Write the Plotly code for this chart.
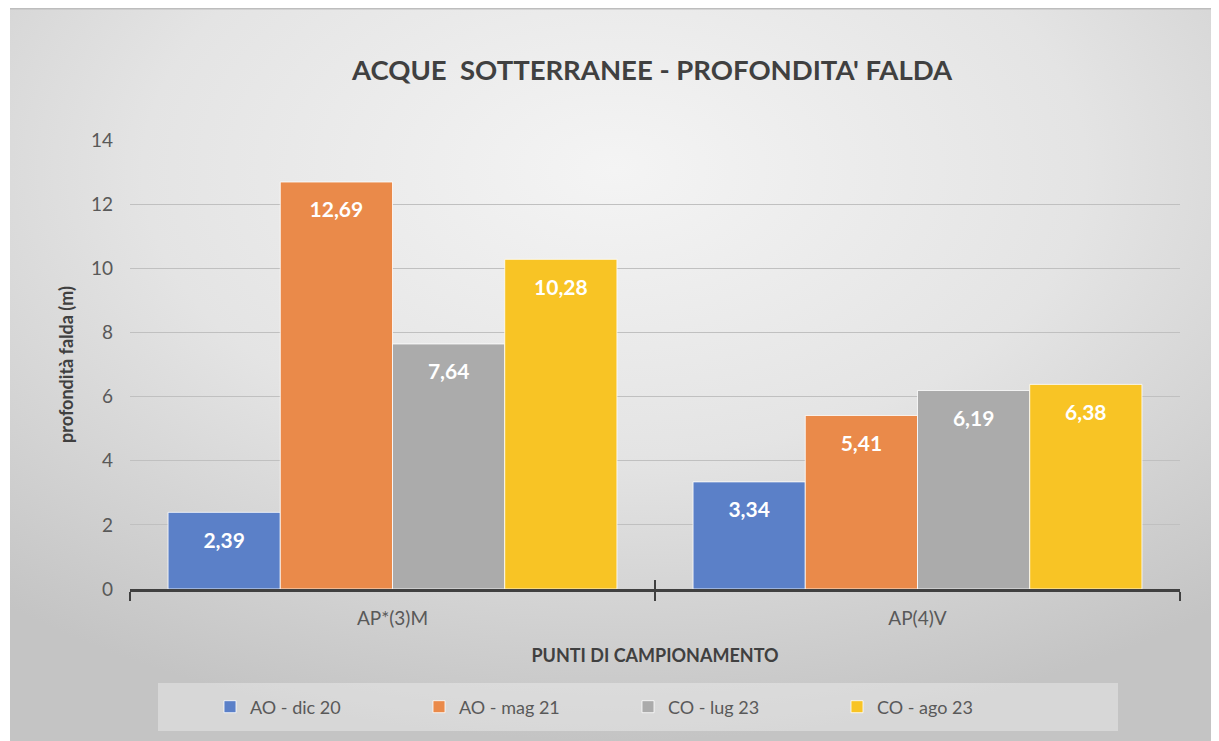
import base64
import plotly.graph_objects as go

categories = ["AP*(3)M", "AP(4)V"]
series_names = ["AO - dic 20", "AO - mag 21", "CO - lug 23", "CO - ago 23"]
ao_dic20 = [2.39, 3.34]
ao_mag21 = [12.69, 5.41]
co_lug23 = [7.64, 6.19]
co_ago23 = [10.28, 6.38]
series_values = [ao_dic20, ao_mag21, co_lug23, co_ago23]
colors = ["#5B80C8", "#EA8A4A", "#ABABAB", "#F8C425"]
y_ticks = [0, 2, 4, 6, 8, 10, 12, 14]

FONT = "Lato"
OFF = 8  # page body margin
W, H = 1219 - OFF, 741 - OFF
ML, MR, MT, MB = 130 - OFF, 1219 - 1180, 140 - OFF, 741 - 589
PW, PH = W - ML - MR, H - MT - MB

def px_x(p):  # screen px -> paper x
    return (p - OFF - ML) / PW

def px_y(p):  # screen px -> paper y
    return (H - MB - (p - OFF)) / PH

fig = go.Figure()
for name, vals, col in zip(series_names, series_values, colors):
    fig.add_trace(go.Bar(
        x=categories, y=vals, name=name,
        marker=dict(color=col, line=dict(color="rgba(255,255,255,0.8)", width=1)),
        texttemplate="&nbsp;<br><span style='font-size:21px'>%{y:.2f}</span>",
        textposition="inside", insidetextanchor="end",
        textangle=0, constraintext="none",
        textfont=dict(family=FONT, size=14, color="white", weight="bold"),
    ))

# helper trace for the overlay axis carrying the inside half of the ticks
fig.add_trace(go.Scatter(x=[], y=[], xaxis="x2", showlegend=False, hoverinfo="skip"))

svg = ("<svg xmlns='http://www.w3.org/2000/svg' width='100' height='100' "
       "viewBox='0 0 100 100' preserveAspectRatio='none'>"
       "<defs><radialGradient id='g' cx='50' cy='22' r='78' gradientUnits='userSpaceOnUse'>"
       "<stop offset='0' stop-color='#f4f4f4'/><stop offset='0.5' stop-color='#e4e4e4'/>"
       "<stop offset='1' stop-color='#c4c4c4'/></radialGradient></defs>"
       "<rect width='100' height='100' fill='url(#g)'/></svg>")
bg_src = "data:image/svg+xml;base64," + base64.b64encode(svg.encode()).decode()

fig.update_layout(
    width=W, height=H,
    margin=dict(l=ML, r=MR, t=MT, b=MB),
    paper_bgcolor="white", plot_bgcolor="rgba(0,0,0,0)",
    separators=",.",
    font=dict(family=FONT, color="#595959"),
    barmode="group", bargap=0.145, bargroupgap=0,
    title=dict(text="ACQUE  SOTTERRANEE - PROFONDITA' FALDA", x=(652 - OFF) / W, xref="container",
               y=1 - (70 - OFF) / H, yref="container", xanchor="center", yanchor="middle",
               font=dict(family=FONT, size=27.5, color="#404040", weight="bold")),
    xaxis=dict(type="category", categoryorder="array", categoryarray=categories,
               showline=True, linecolor="#404040", linewidth=3,
               ticks="outside", tickson="boundaries", ticklen=9, tickwidth=2, tickcolor="#404040",
               tickfont=dict(family=FONT, size=19, color="#595959"), ticklabelstandoff=10,
               showgrid=False,
               title=dict(text="PUNTI DI CAMPIONAMENTO", standoff=22,
                          font=dict(family=FONT, size=18, color="#404040", weight="bold"))),
    xaxis2=dict(overlaying="x", range=[-0.5, 1.5], tickvals=[-0.5, 0.5, 1.5],
                ticks="inside", ticklen=9, tickwidth=2, tickcolor="#404040",
                showticklabels=False, showgrid=False, zeroline=False, showline=False),
    yaxis=dict(range=[0, 14], tickvals=y_ticks, showgrid=True, gridcolor="#c0c0c0", gridwidth=1,
               zeroline=False, showline=False, ticks="", ticklabelstandoff=16,
               tickfont=dict(family=FONT, size=19, color="#595959"),
               title=dict(text="profondità falda (m)", standoff=12,
                          font=dict(family=FONT, size=18, color="#404040", weight="bold"))),
    legend=dict(orientation="h", x=px_x(210), y=px_y(707), xanchor="left", yanchor="middle",
                bgcolor="rgba(0,0,0,0)", entrywidth=164,
                font=dict(family=FONT, size=18, color="#595959")),
    images=[dict(source=bg_src, xref="paper", yref="paper",
                 x=px_x(10), y=px_y(8), sizex=px_x(1219) - px_x(10), sizey=px_y(8) - px_y(741),
                 sizing="stretch", layer="below", xanchor="left", yanchor="top")],
    shapes=[dict(type="rect", xref="paper", yref="paper", layer="below",
                 x0=px_x(158), x1=px_x(1118), y0=px_y(731), y1=px_y(683),
                 fillcolor="rgba(240,240,240,0.45)", line=dict(width=0)),
            dict(type="line", xref="paper", yref="paper", layer="below",
                 x0=px_x(10), x1=px_x(1219), y0=px_y(8.5), y1=px_y(8.5),
                 line=dict(color="#bdbdbd", width=2))],
)

fig.write_html("out.html")
